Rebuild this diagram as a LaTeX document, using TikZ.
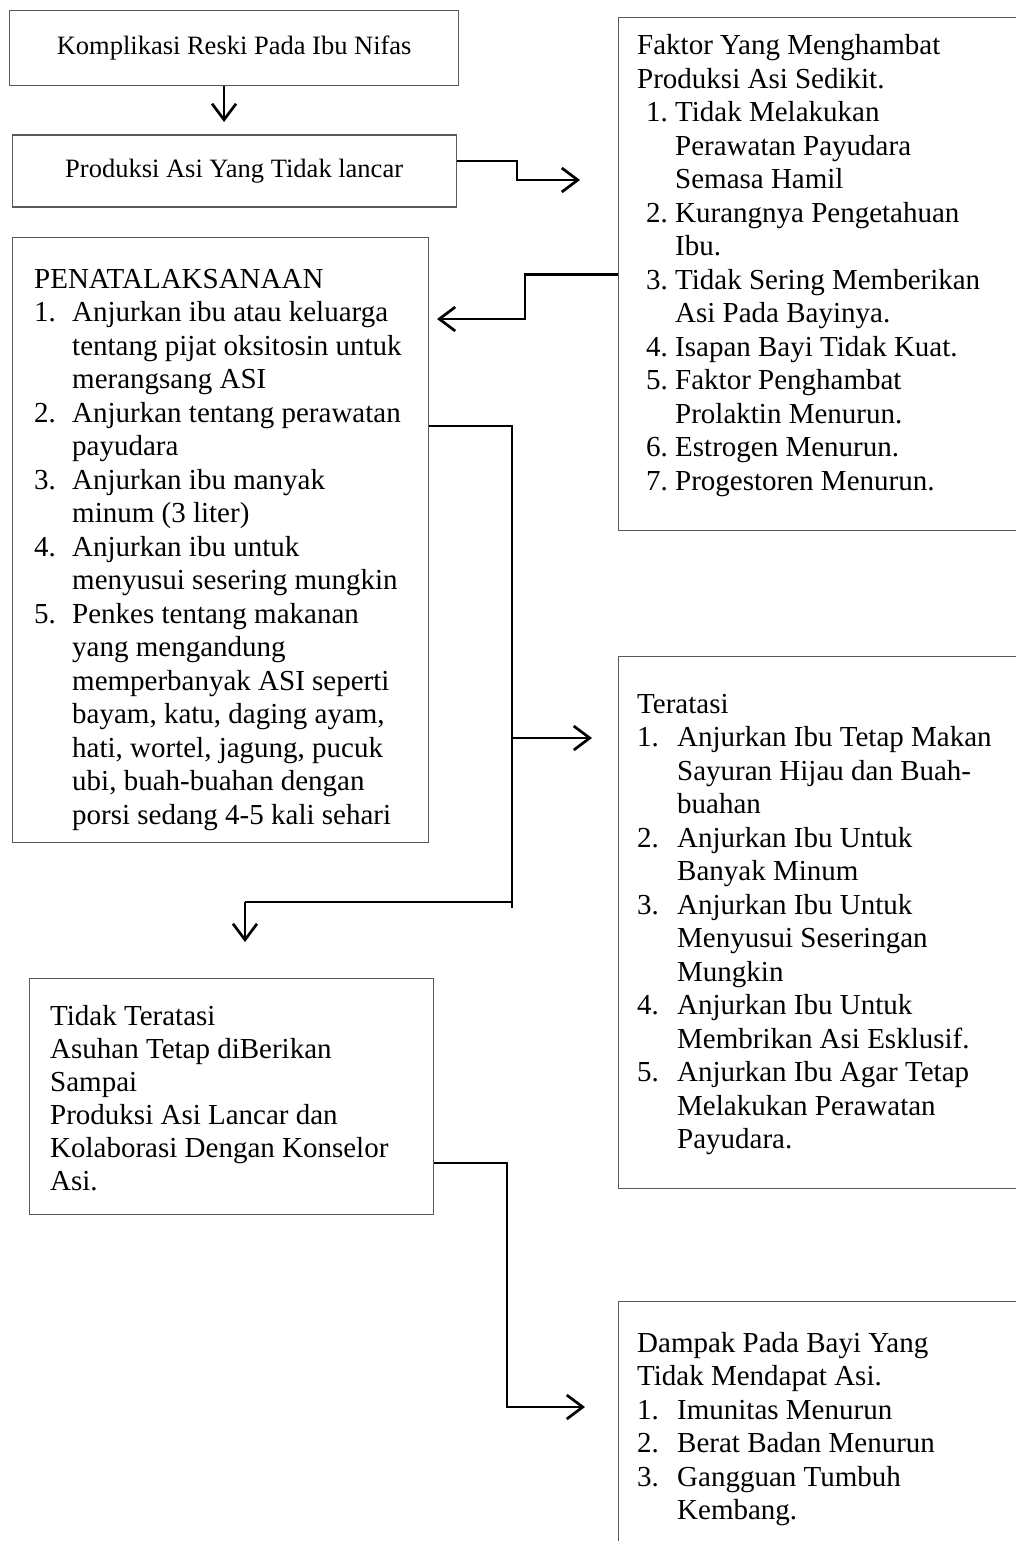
\documentclass[tikz,border=0pt]{standalone}
\usepackage{fontspec}
\setmainfont{Liberation Serif}
\usetikzlibrary{arrows.meta}
\usetikzlibrary{positioning, calc}
\tikzstyle{kotak} = [rectangle, draw=black!65, line width=1.3pt, inner sep=0pt, anchor=north west]
\tikzstyle{judul} = [kotak, font=\fontsize{26.5}{30}\selectfont]
\tikzstyle{isi} = [inner sep=0pt, anchor=base west, font=\fontsize{29}{33.5}\selectfont]
\tikzstyle{arrow} = [line width=2.7pt, -{Straight Barb[length=16pt, width=24pt]}]
\tikzstyle{tipis} = [line width=1.3pt]
\newcommand{\nomor}[2][39pt]{\makebox[#1][l]{#2}}
\newcommand{\lanjut}[1][39pt]{\hspace*{#1}}

\begin{document}
\begin{tikzpicture}[x=1pt, y=-1pt]
    \useasboundingbox (0,0) rectangle (1016,1541);
    \clip (0,0) rectangle (1016,1541);

    % kolom kiri
    \node (komp) [judul, minimum width=449pt, minimum height=75pt] at (9,10) {Komplikasi Reski Pada Ibu Nifas};
    \node (prod) [judul, minimum width=444pt, minimum height=72pt, below=48pt of komp] {Produksi Asi Yang Tidak lancar};
    \node (pena) [kotak, minimum width=416pt, minimum height=605pt] at (12,237) {};
    \node (tidak) [kotak, minimum width=404pt, minimum height=236pt] at (29,978) {};

    % kolom kanan
    \node (faktor) [kotak, minimum width=420pt, minimum height=513pt] at (618,17) {};
    \node (teratasi) [kotak, minimum width=420pt, minimum height=532pt] at (618,656) {};
    \node (dampak) [kotak, minimum width=420pt, minimum height=300pt] at (618,1301) {};

    \node (faktorIsi) [isi] at ($(faktor.north west)+(19,38)$) {\begin{tabular}[t]{@{}l@{}}
    Faktor Yang Menghambat\\
    Produksi Asi Sedikit.\\
    \hspace*{9pt}\nomor[29pt]{1.}Tidak Melakukan\\
    \lanjut[38pt]Perawatan Payudara\\
    \lanjut[38pt]Semasa Hamil\\
    \hspace*{9pt}\nomor[29pt]{2.}Kurangnya Pengetahuan\\
    \lanjut[38pt]Ibu.\\
    \hspace*{9pt}\nomor[29pt]{3.}Tidak Sering Memberikan\\
    \lanjut[38pt]Asi Pada Bayinya.\\
    \hspace*{9pt}\nomor[29pt]{4.}Isapan Bayi Tidak Kuat.\\
    \hspace*{9pt}\nomor[29pt]{5.}Faktor Penghambat\\
    \lanjut[38pt]Prolaktin Menurun.\\
    \hspace*{9pt}\nomor[29pt]{6.}Estrogen Menurun.\\
    \hspace*{9pt}\nomor[29pt]{7.}Progestoren Menurun.
    \end{tabular}};

    \node (penaIsi) [isi] at ($(pena.north west)+(22,51)$) {\begin{tabular}[t]{@{}l@{}}
    PENATALAKSANAAN\\
    \nomor[38pt]{1.}Anjurkan ibu atau keluarga\\
    \lanjut[38pt]tentang pijat oksitosin untuk\\
    \lanjut[38pt]merangsang ASI\\
    \nomor[38pt]{2.}Anjurkan tentang perawatan\\
    \lanjut[38pt]payudara\\
    \nomor[38pt]{3.}Anjurkan ibu manyak\\
    \lanjut[38pt]minum (3 liter)\\
    \nomor[38pt]{4.}Anjurkan ibu untuk\\
    \lanjut[38pt]menyusui sesering mungkin\\
    \nomor[38pt]{5.}Penkes tentang makanan\\
    \lanjut[38pt]yang mengandung\\
    \lanjut[38pt]memperbanyak ASI seperti\\
    \lanjut[38pt]bayam, katu, daging ayam,\\
    \lanjut[38pt]hati, wortel, jagung, pucuk\\
    \lanjut[38pt]ubi, buah-buahan dengan\\
    \lanjut[38pt]porsi sedang 4-5 kali sehari
    \end{tabular}};

    \node (teratasiIsi) [isi] at ($(teratasi.north west)+(19,57)$) {\begin{tabular}[t]{@{}l@{}}
    Teratasi\\
    \nomor[40pt]{1.}Anjurkan Ibu Tetap Makan\\
    \lanjut[40pt]Sayuran Hijau dan Buah-\\
    \lanjut[40pt]buahan\\
    \nomor[40pt]{2.}Anjurkan Ibu Untuk\\
    \lanjut[40pt]Banyak Minum\\
    \nomor[40pt]{3.}Anjurkan Ibu Untuk\\
    \lanjut[40pt]Menyusui Seseringan\\
    \lanjut[40pt]Mungkin\\
    \nomor[40pt]{4.}Anjurkan Ibu Untuk\\
    \lanjut[40pt]Membrikan Asi Esklusif.\\
    \nomor[40pt]{5.}Anjurkan Ibu Agar Tetap\\
    \lanjut[40pt]Melakukan Perawatan\\
    \lanjut[40pt]Payudara.
    \end{tabular}};

    \node (tidakIsi) [isi, font=\fontsize{29}{33}\selectfont] at ($(tidak.north west)+(21,47)$) {\begin{tabular}[t]{@{}l@{}}
    Tidak Teratasi\\
    Asuhan Tetap diBerikan\\
    Sampai\\
    Produksi Asi Lancar dan\\
    Kolaborasi Dengan Konselor\\
    Asi.
    \end{tabular}};

    \node (dampakIsi) [isi] at ($(dampak.north west)+(19,51)$) {\begin{tabular}[t]{@{}l@{}}
    Dampak Pada Bayi Yang\\
    Tidak Mendapat Asi.\\
    \nomor[40pt]{1.}Imunitas Menurun\\
    \nomor[40pt]{2.}Berat Badan Menurun\\
    \nomor[40pt]{3.}Gangguan Tumbuh\\
    \lanjut[40pt]Kembang.
    \end{tabular}};

    % ujung panah
    \coordinate (u1) at (224,122);
    \coordinate (u2) at (580,180);
    \coordinate (u3) at (437,319);
    \coordinate (cabang) at (512,738);
    \coordinate (u4) at (592,738);
    \coordinate (belok) at (245,902);
    \coordinate (u5) at (245,942);
    \coordinate (u6) at (585,1407);

    \draw[arrow] (komp.south -| u1) -- (u1);
    \draw[arrow] ([yshift=10pt]prod.east) -| ($(u2)+(-63,0)$) -- (u2);
    \draw[arrow] (faktor.west) -| ($(u3)+(88,0)$) -- (u3);
    \draw[arrow] ([yshift=-189pt]pena.north east) -| (cabang) -- (u4);
    \draw[tipis] (cabang) -- ++(0,170);
    \draw[tipis] (cabang |- belok) -- (belok);
    \draw[arrow] (belok) -- (u5);
    \draw[arrow] ([yshift=-185pt]tidak.north east) -| ($(u6)+(-78,0)$) -- (u6);
\end{tikzpicture}
\end{document}
